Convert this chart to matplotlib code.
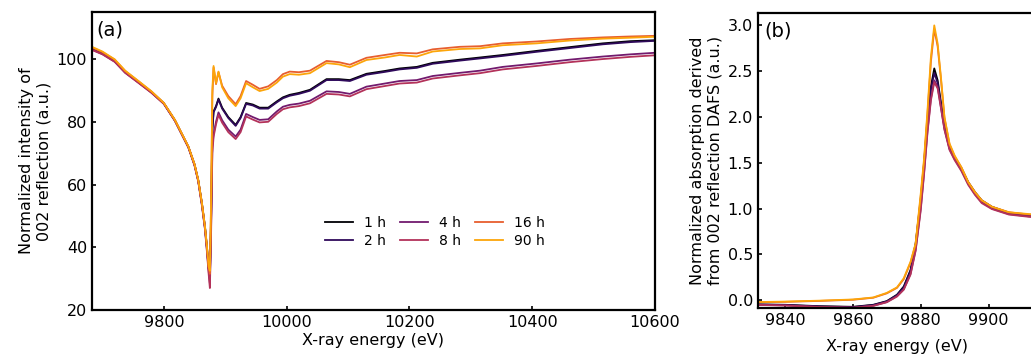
import numpy as np
import matplotlib
matplotlib.use("Agg")
import matplotlib.pyplot as plt

# ---------------- data: panel (a) ----------------
labels = ["1 h", "2 h", "4 h", "8 h", "16 h", "90 h"]

E_a = [9683, 9700, 9720, 9737, 9760, 9780, 9800, 9818, 9840, 9850, 9856, 9862,
       9867, 9870, 9873,
       9875, 9877, 9879, 9881, 9885, 9889, 9895, 9905, 9917, 9925, 9934, 9945,
       9956, 9970, 9984, 9994, 10005, 10020, 10038, 10065, 10085, 10103, 10130,
       10160, 10184, 10212, 10238, 10282, 10315, 10352, 10407, 10461, 10515,
       10560, 10600]

I_1h = [103.2, 101.8, 99.4, 95.9, 92.5, 89.5, 85.9, 80.5, 72.0, 66.4, 61.4, 54.0,
        46.5, 40.5, 33.5,
        30.5, 50, 78, 83.3, 85.0, 87.4, 84.5, 81.5, 79.0, 81.5, 86.0, 85.5,
        84.5, 84.5, 86.5, 87.8, 88.6, 89.2, 90.2, 93.6, 93.6, 93.3, 95.3,
        96.2, 97.0, 97.5, 98.8, 99.8, 100.5, 101.3, 102.6, 103.8, 105.0,
        105.7, 106.0]
I_2h = [103.1, 101.7, 99.3, 95.8, 92.4, 89.4, 85.8, 80.4, 71.9, 66.3, 61.3, 53.9,
        46.3, 40.2, 33.2,
        30.0, 49, 77, 83.0, 84.7, 87.1, 84.2, 81.2, 78.7, 81.2, 85.7, 85.2,
        84.2, 84.2, 86.2, 87.5, 88.3, 88.9, 89.9, 93.3, 93.3, 93.0, 95.0,
        95.9, 96.7, 97.2, 98.5, 99.5, 100.2, 101.0, 102.3, 103.5, 104.7,
        105.4, 105.8]
I_4h = [103.0, 101.6, 99.2, 95.7, 92.3, 89.3, 85.8, 80.4, 71.9, 66.2, 61.2, 53.6,
        46.0, 39.6, 32.5,
        28.5, 47, 72, 76.0, 80.0, 83.0, 80.5, 77.5, 75.3, 77.5, 82.5, 81.5,
        80.6, 80.8, 83.3, 84.8, 85.4, 85.8, 86.7, 89.7, 89.5, 88.9, 91.2,
        92.2, 93.0, 93.3, 94.6, 95.6, 96.3, 97.5, 98.6, 99.8, 100.8,
        101.5, 102.0]
I_8h = [102.9, 101.5, 99.1, 95.6, 92.2, 89.2, 85.7, 80.3, 71.8, 66.0, 61.0, 53.3,
        45.7, 39.0, 31.5,
        27.0, 45, 70, 75.2, 79.2, 82.2, 79.7, 76.7, 74.5, 76.7, 81.7, 80.7,
        79.8, 80.0, 82.5, 84.0, 84.6, 85.0, 85.9, 88.9, 88.7, 88.1, 90.4,
        91.4, 92.2, 92.5, 93.8, 94.8, 95.5, 96.7, 97.8, 99.0, 100.0,
        100.7, 101.2]
I_16h = [103.7, 102.2, 99.8, 96.2, 92.7, 89.6, 86.0, 80.6, 72.1, 66.5, 61.5, 54.1,
         46.6, 40.6, 33.6,
         31.5, 54, 88, 97.3, 92.0, 95.8, 91.5, 88.2, 85.6, 88.2, 93.0, 91.8,
         90.5, 91.3, 93.3, 95.2, 96.0, 95.8, 96.3, 99.4, 99.0, 98.2, 100.4,
         101.3, 102.0, 101.8, 103.1, 103.9, 104.1, 105.0, 105.6, 106.4, 106.9,
         107.2, 107.4]
I_90h = [103.9, 102.4, 99.9, 96.3, 92.8, 89.7, 86.0, 80.6, 72.1, 66.5, 61.5, 54.2,
         46.6, 40.8, 33.8,
         32.5, 55, 90, 97.8, 92.3, 96.0, 91.0, 87.5, 85.0, 87.5, 92.3, 91.0,
         89.8, 90.5, 92.5, 94.4, 95.2, 95.0, 95.5, 98.7, 98.3, 97.4, 99.7,
         100.5, 101.3, 100.8, 102.4, 103.2, 103.4, 104.4, 105.0, 105.9, 106.5,
         106.8, 107.1]

# ---------------- data: panel (b) ----------------
E_b = [9832, 9840, 9850, 9860, 9866, 9870, 9873, 9875, 9877, 9878.5, 9880, 9881,
       9882, 9883, 9884, 9885, 9886, 9887, 9888.5, 9890, 9892, 9894, 9896, 9898,
       9901, 9906, 9912, 9920]

A_1h = [-0.045, -0.05, -0.065, -0.072, -0.05, -0.01, 0.06, 0.15, 0.33, 0.62, 1.10, 1.50,
        1.98, 2.33, 2.53, 2.40, 2.15, 1.90, 1.67, 1.56, 1.44, 1.29, 1.18, 1.09,
        1.02, 0.955, 0.93, 0.91]
A_2h = [-0.048, -0.053, -0.068, -0.075, -0.053, -0.013, 0.055, 0.14, 0.32, 0.60, 1.08, 1.48,
        1.95, 2.30, 2.48, 2.37, 2.13, 1.89, 1.66, 1.55, 1.43, 1.28, 1.17, 1.08,
        1.01, 0.95, 0.925, 0.905]
A_4h = [-0.05, -0.056, -0.072, -0.08, -0.06, -0.02, 0.045, 0.12, 0.29, 0.55, 1.00, 1.40,
        1.85, 2.20, 2.40, 2.33, 2.10, 1.87, 1.65, 1.54, 1.42, 1.27, 1.16, 1.07,
        1.00, 0.94, 0.915, 0.895]
A_8h = [-0.052, -0.058, -0.074, -0.082, -0.062, -0.022, 0.04, 0.115, 0.28, 0.54, 0.98, 1.38,
        1.83, 2.18, 2.38, 2.31, 2.09, 1.86, 1.64, 1.53, 1.41, 1.26, 1.15, 1.06,
        0.995, 0.935, 0.91, 0.89]
A_16h = [-0.022, -0.018, -0.008, 0.005, 0.027, 0.075, 0.135, 0.23, 0.41, 0.61, 1.13, 1.52,
         2.03, 2.60, 2.96, 2.77, 2.40, 1.99, 1.70, 1.57, 1.45, 1.29, 1.18, 1.09,
         1.02, 0.96, 0.935, 0.915]
A_90h = [-0.02, -0.015, -0.005, 0.008, 0.03, 0.08, 0.14, 0.24, 0.42, 0.62, 1.16, 1.55,
         2.07, 2.65, 3.00, 2.80, 2.42, 2.00, 1.71, 1.58, 1.45, 1.29, 1.18, 1.09,
         1.02, 0.96, 0.94, 0.92]

series_a = [I_1h, I_2h, I_4h, I_8h, I_16h, I_90h]
series_b = [A_1h, A_2h, A_4h, A_8h, A_16h, A_90h]

# ---------------- styling ----------------
colors = plt.cm.inferno(np.linspace(0.0, 0.8, 6))
plt.rcParams['font.family'] = ['DejaVu Sans']

fig = plt.figure(figsize=(10.31, 3.56), dpi=100)
W, H = 1031.0, 356.0
ax1 = fig.add_axes([92 / W, 1 - 310 / H, (655 - 92) / W, (310 - 12) / H])
ax2 = fig.add_axes([758 / W, 1 - 308 / H, 400 / W, (308 - 13) / H])

for y, c, lab in zip(series_a, colors, labels):
    ax1.plot(E_a, y, color=c, lw=1.3, label=lab)
for y, c, lab in zip(series_b, colors, labels):
    ax2.plot(E_b, y, color=c, lw=1.3, label=lab)

ax1.set_xlim(9683, 10600)
ax1.set_ylim(20, 115)
ax1.set_xticks([9800, 10000, 10200, 10400, 10600])
ax1.set_yticks([20, 40, 60, 80, 100])
ax1.set_xlabel("X-ray energy (eV)", fontsize=11.5, labelpad=2)
ax1.set_ylabel("Normalized intensity of\n002 reflection (a.u.)", fontsize=11.5)
ax1.text(0.008, 0.97, "(a)", transform=ax1.transAxes, fontsize=14, va="top", ha="left")
ax1.legend(ncol=3, frameon=False, loc="center", bbox_to_anchor=(0.609, 0.262),
           fontsize=10, handlelength=2.0, columnspacing=1.0, handletextpad=0.8,
           labelspacing=0.3)

ax2.set_xlim(9832, 9950)
ax2.set_ylim(-0.085, 3.135)
ax2.set_xticks([9840, 9860, 9880, 9900])
ax2.set_yticks([0.0, 0.5, 1.0, 1.5, 2.0, 2.5, 3.0])
ax2.set_xlabel("X-ray energy (eV)", fontsize=11.5)
ax2.xaxis.set_label_coords((897 - 758) / 400, -0.105)
ax2.set_ylabel("Normalized absorption derived\nfrom 002 reflection DAFS (a.u.)", fontsize=11.5)
ax2.text(0.015, 0.97, "(b)", transform=ax2.transAxes, fontsize=14, va="top", ha="left")

for ax in (ax1, ax2):
    ax.tick_params(direction="in", length=3, width=1.2, labelsize=11.5)
    for s in ax.spines.values():
        s.set_linewidth(1.6)

fig.savefig("out.png", dpi=100)
